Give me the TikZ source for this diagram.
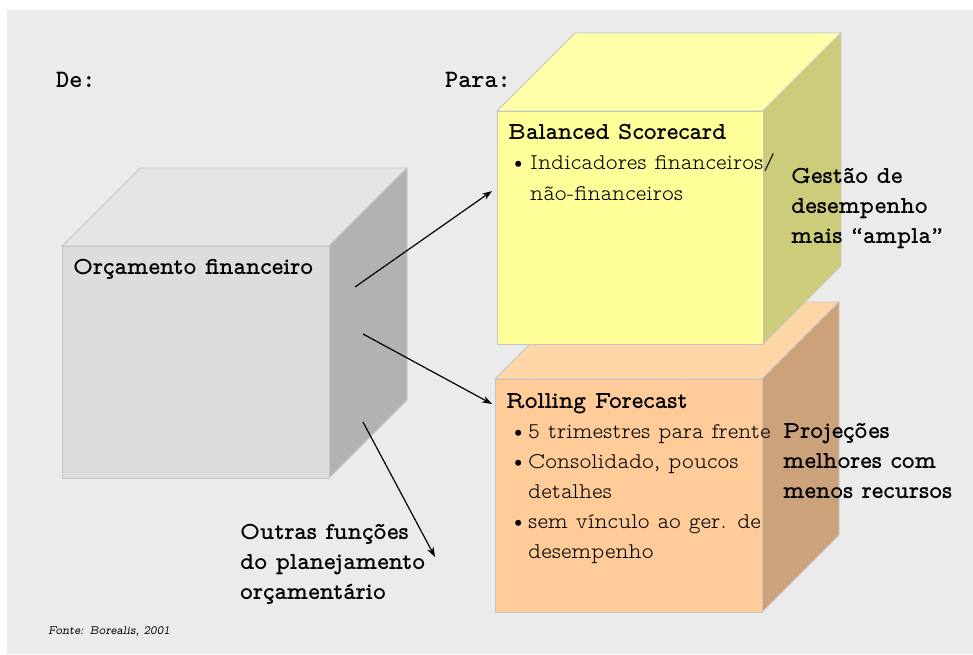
\documentclass[tikz,border=0pt]{standalone}
\usepackage{fontspec}
\usetikzlibrary{arrows.meta}
\newfontfamily\propreg{lmmonoproplt10-regular.otf}
\newfontfamily\propbold{lmmonoproplt10-bold.otf}
\newfontfamily\propit{lmmonoprop10-oblique.otf}
\newfontfamily\monobold{lmmonolt10-bold.otf}
\definecolor{bggray}{HTML}{EBEBEB}
\definecolor{edgegray}{HTML}{C4C4C4}
\definecolor{gfront}{HTML}{DDDDDD}
\definecolor{gtop}{HTML}{E4E4E4}
\definecolor{gside}{HTML}{B2B2B2}
\definecolor{yfront}{HTML}{FFFF99}
\definecolor{ytop}{HTML}{FFFFAA}
\definecolor{yside}{HTML}{CCCC7A}
\definecolor{ofront}{HTML}{FFCC99}
\definecolor{otop}{HTML}{FFD6A8}
\definecolor{oside}{HTML}{CCA27A}
\tikzset{
  face/.style={draw=edgegray, line width=0.9pt, line join=miter},
  boldtxt/.style={inner sep=0pt, anchor=base west, font=\propbold\fontsize{24.5}{28}\selectfont},
  regtxt/.style={inner sep=0pt, anchor=base west, font=\propreg\fontsize{22.5}{26}\selectfont},
  headtxt/.style={inner sep=0pt, anchor=base west, font=\monobold\fontsize{25}{28}\selectfont},
  srctxt/.style={inner sep=0pt, anchor=base west, font=\propit\fontsize{12.6}{15}\selectfont},
  bulletdot/.style={inner sep=0pt, anchor=base west, font=\propreg\fontsize{22.5}{26}\selectfont},
  arrowline/.style={line width=1.2pt, -{Stealth[length=10pt,width=7pt]}}
}
\newcommand{\drawcube}[8]{%
  % #1,#2 front top-left ; #3,#4 front bottom-right ; #5 depth ; #6 front ; #7 top ; #8 side
  \fill[#7, face] (#1,#2) -- (#1+#5,#2-#5) -- (#3+#5,#2-#5) -- (#3,#2) -- cycle;
  \fill[#8, face] (#3,#2) -- (#3+#5,#2-#5) -- (#3+#5,#4-#5) -- (#3,#4) -- cycle;
  \fill[#6, face] (#1,#2) rectangle (#3,#4);
}
\begin{document}
\begin{tikzpicture}[x=1pt,y=-1pt]
\useasboundingbox (0,0) rectangle (973,654);
\fill[bggray] (7,10) rectangle (973,654);

% cubes
\drawcube{62}{246}{329}{478}{78}{gfront}{gtop}{gside}
\drawcube{495}{379}{762}{612}{77}{ofront}{otop}{oside}
\drawcube{497}{111}{763}{344}{78}{yfront}{ytop}{yside}

% headings
\node[headtxt] (de) at (56,87) {De:};
\node[headtxt] (para) at (445,87) {Para:};

% grey cube text
\node[boldtxt] (orc) at (73,274) {Orçamento financeiro};

% yellow cube text
\node[boldtxt] (bsc) at (508,139) {Balanced Scorecard};
\node[bulletdot] (b1) at (509,169) {•};
\node[regtxt] (ind1) at (530,169) {Indicadores financeiros/};
\node[regtxt] (ind2) at (530,200) {não-financeiros};

\node[boldtxt] (g1) at (791,183) {Gestão de};
\node[boldtxt] (g2) at (791,213) {desempenho};
\node[boldtxt] (g3) at (791,243) {mais “ampla”};

% orange cube text
\node[boldtxt] (rf) at (506,408) {Rolling Forecast};
\node[bulletdot] (b2) at (509,438) {•};
\node[regtxt] (r1) at (528,438) {5 trimestres para frente};
\node[bulletdot] (b3) at (509,468) {•};
\node[regtxt] (r2) at (528,468) {Consolidado, poucos};
\node[regtxt] (r3) at (528,498) {detalhes};
\node[bulletdot] (b4) at (509,528) {•};
\node[regtxt] (r4) at (528,528) {sem vínculo ao ger. de};
\node[regtxt] (r5) at (528,558) {desempenho};

\node[boldtxt] (p1) at (783,438) {Projeções};
\node[boldtxt] (p2) at (783,468) {melhores com};
\node[boldtxt] (p3) at (783,498) {menos recursos};

% other functions text
\node[boldtxt] (o1) at (240,539) {Outras funções};
\node[boldtxt] (o2) at (240,569) {do planejamento};
\node[boldtxt] (o3) at (240,599) {orçamentário};

\node[srctxt] (src) at (48,634) {Fonte: Borealis, 2001};

% arrows
\coordinate (a1s) at (355,287);
\coordinate (a1e) at (492,191);
\coordinate (a2s) at (363,334);
\coordinate (a2e) at (492,404);
\coordinate (a3s) at (363,422);
\coordinate (a3e) at (435,557);
\draw[arrowline] (a1s) -- (a1e);
\draw[arrowline] (a2s) -- (a2e);
\draw[arrowline] (a3s) -- (a3e);
\end{tikzpicture}
\end{document}
